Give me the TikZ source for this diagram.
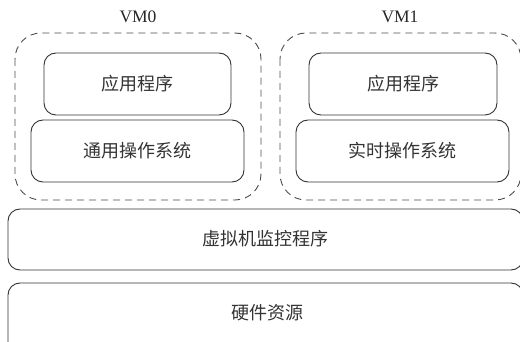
\documentclass[tikz,border=0pt]{standalone}
\usepackage{fontspec}
\setmainfont{Liberation Serif}
\newfontfamily\cjk{Noto Sans CJK SC}
\begin{document}
\begin{tikzpicture}[x=1pt,y=-1pt,
  layer/.style={draw=black!80, line width=0.9pt, rounded corners=12pt},
  vmbox/.style={draw=black!70, line width=0.9pt, dash pattern=on 7pt off 5pt, rounded corners=26pt},
  zh/.style={font=\cjk\fontsize{18}{20}\selectfont, text=black!80},
  vmlabel/.style={font=\fontsize{17.5}{19}\selectfont, text=black!85}
]
\useasboundingbox (0,0) rectangle (520,342);
\clip (0,0) rectangle (520,342);

% virtual machine containers
\draw[vmbox] (15,33) rectangle (261,200);
\draw[vmbox] (280,33) rectangle (521,200);
\node[vmlabel] (vm0) at (138,17) {VM0};
\node[vmlabel] (vm1) at (400,17) {VM1};

% guest software stacks
\draw[layer] (44,53) rectangle (231,115);
\node[zh] (app0) at (137.5,84) {应用程序};
\draw[layer] (31,120) rectangle (244,182);
\node[zh] (os0) at (137.5,151) {通用操作系统};

\draw[layer] (309,53) rectangle (497,115);
\node[zh] (app1) at (403,84) {应用程序};
\draw[layer] (296,120) rectangle (509,182);
\node[zh] (os1) at (402.5,151) {实时操作系统};

% hypervisor and hardware layers
\draw[layer] (8,209) rectangle (523,270);
\node[zh] (hv) at (265,239) {虚拟机监控程序};
\draw[layer] (8,283) rectangle (523,360);
\node[zh] (hw) at (267,313) {硬件资源};
\end{tikzpicture}
\end{document}
